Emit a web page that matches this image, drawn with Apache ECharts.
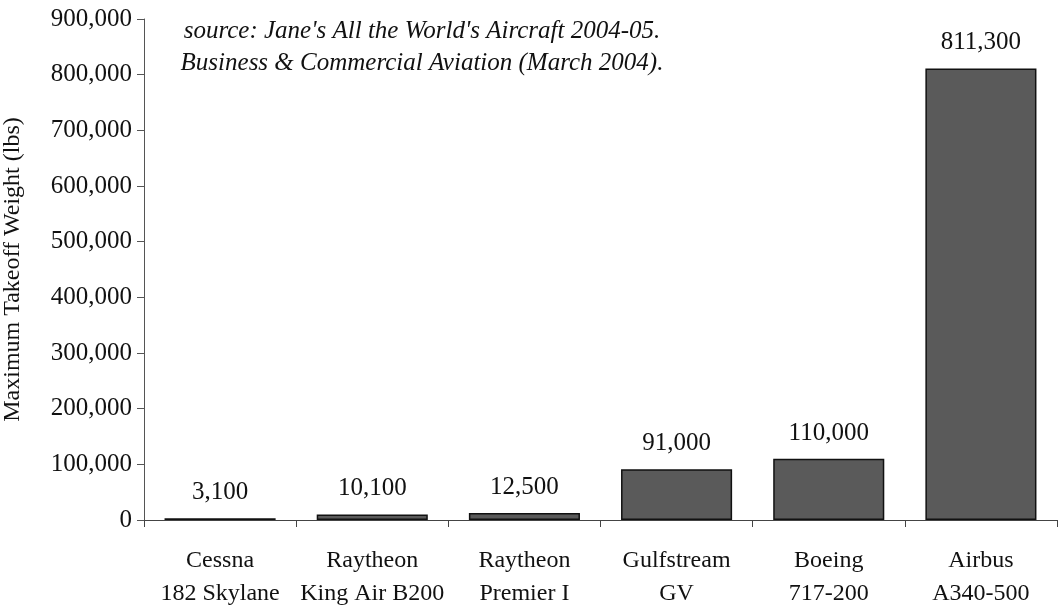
<!DOCTYPE html>
<html>
<head>
<meta charset="utf-8">
<script src="https://cdn.jsdelivr.net/npm/echarts@6/dist/echarts.min.js"></script>
<style>
  html, body { margin: 0; padding: 0; background: #fff; }
  #chart { width: 1060px; height: 605px; }
</style>
</head>
<body>
<div id="chart"></div>
<script>
// aircraft and their max takeoff weight (lbs)
var categories = ['Cessna\n182 Skylane', 'Raytheon\nKing Air B200', 'Raytheon\nPremier I', 'Gulfstream\nGV', 'Boeing\n717-200', 'Airbus\nA340-500'];
var weights = [3100, 10100, 12500, 91000, 110000, 811300];
var sourceLines = ["source: Jane's All the World's Aircraft 2004-05.", 'Business & Commercial Aviation (March 2004).'];

var serif = '"Liberation Serif", "DejaVu Serif", serif';
function fmt(v) { return Number(v).toLocaleString('en-US'); }

var chart = echarts.init(document.getElementById('chart'));
var option = {
    animation: false,
    textStyle: { fontFamily: serif },
    grid: { left: 144, right: 3, top: 19, bottom: 85, outerBoundsMode: 'none', containLabel: false },
    graphic: sourceLines.map(function (t, i) {
        return {
            type: 'text',
            x: 422,
            y: 31 + i * 32,
            style: {
                text: t,
                font: 'italic 25px ' + serif,
                fill: '#111',
                align: 'center',
                verticalAlign: 'middle'
            }
        };
    }),
    xAxis: {
        type: 'category',
        data: categories,
        axisLine: { lineStyle: { color: '#444', width: 1 } },
        axisTick: { show: true, length: 7, lineStyle: { color: '#444' } },
        axisLabel: {
            color: '#111',
            fontFamily: serif,
            fontSize: 24,
            lineHeight: 33,
            margin: 24,
            interval: 0
        }
    },
    yAxis: {
        type: 'value',
        min: 0,
        max: 900000,
        interval: 100000,
        name: 'Maximum Takeoff Weight (lbs)',
        nameLocation: 'middle',
        nameGap: 119,
        nameTextStyle: { color: '#111', fontFamily: serif, fontSize: 24 },
        axisLine: { show: true, lineStyle: { color: '#555', width: 1 } },
        axisTick: { show: true, length: 7, lineStyle: { color: '#555' } },
        splitLine: { show: false },
        axisLabel: {
            color: '#111',
            fontFamily: serif,
            fontSize: 25,
            margin: 12,
            formatter: fmt
        }
    },
    series: [{
        type: 'bar',
        data: weights,
        barWidth: '73%',
        itemStyle: { color: '#5a5a5a', borderColor: '#111', borderWidth: 1.5 },
        label: {
            show: true,
            position: 'top',
            distance: 13,
            color: '#111',
            fontFamily: serif,
            fontSize: 25,
            formatter: function (p) { return fmt(p.value); }
        }
    }]
};
chart.setOption(option);
</script>
</body>
</html>
